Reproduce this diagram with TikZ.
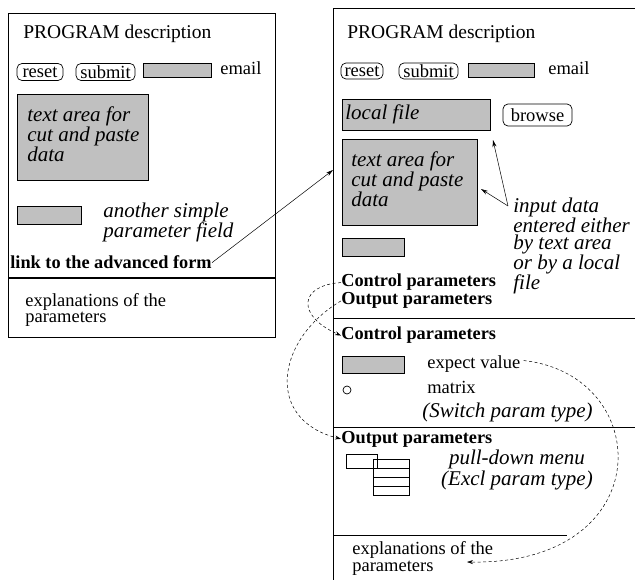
\documentclass[tikz,border=0pt]{standalone}
\usepackage{fontspec}
\setmainfont{Liberation Serif}
\usetikzlibrary{arrows.meta}
\definecolor{fieldgray}{RGB}{192,192,192}

\begin{document}
\begin{tikzpicture}[x=1pt, y=-1pt, line width=0.7pt,
  txt/.style={anchor=base west, inner sep=0pt, align=left, font=\fontsize{18.5}{16.5}\selectfont},
  itxt/.style={txt, font=\fontsize{21}{17.5}\selectfont\itshape},
  btxt/.style={txt, font=\fontsize{18.3}{18}\selectfont\bfseries},
  title/.style={txt, font=\fontsize{19.5}{18}\selectfont},
  button/.style={draw, rounded corners=5pt, inner sep=0pt, minimum height=17pt, font=\fontsize{18.5}{18}\selectfont},
  field/.style={draw, fill=fieldgray, inner sep=0pt, anchor=north west},
  link arrow/.style={line width=0.5pt, -{Stealth[length=7pt, width=4pt]}},
  jump arrow/.style={line width=0.5pt, dash pattern=on 3pt off 2.5pt, -{Stealth[length=6pt, width=4pt]}}]
  \useasboundingbox (0,0) rectangle (635,580);
  % simple form
  \draw (8,13) rectangle (275,337);
  \draw[line width=1.2pt] (8,278) -- (275,278);
  \node[title] (ltitle) at (23,39) {PROGRAM description};
  \node[button, minimum width=46pt] (lreset) at (40,72) {reset};
  \node[button, minimum width=59pt] (lsubmit) at (105.5,72) {submit};
  \node[field, minimum width=68pt, minimum height=14pt] (lemailbox) at (143,63) {};
  \node[txt] (lemail) at (220,75) {email};
  \node[field, minimum width=131pt, minimum height=86pt] (larea) at (17,94) {};
  \node[itxt] (lareatext) at (27,162) {text area for\\cut and paste\\data};
  \node[field, minimum width=64pt, minimum height=18pt] (lparbox) at (17,206) {};
  \node[itxt] (lpartext) at (103,238) {another simple\\parameter field};
  \node[btxt] (link) at (10,269) {link to the advanced form};
  \node[txt] (lexpl) at (25,323) {explanations of the\\parameters};
  % advanced form
  \draw (635,8) -- (333,8) -- (333,580);
  \draw (333,318) -- (635,318);
  \draw (333,427) -- (635,427);
  \draw (333,535) -- (567,535);
  \coordinate (adv) at (333,170);
  \node[title] (rtitle) at (347,39) {PROGRAM description};
  \node[button, minimum width=42pt, minimum height=16pt] (rreset) at (362,71) {reset};
  \node[button, minimum width=59pt, minimum height=16pt] (rsubmit) at (428.5,71) {submit};
  \node[field, minimum width=66pt, minimum height=14pt] (remailbox) at (468,63) {};
  \node[txt] (remail) at (548,75) {email};
  \node[field, minimum width=148pt, minimum height=31pt] (lfile) at (342,99) {};
  \node[itxt] (lfiletext) at (345,120) {local file};
  \node[button, minimum width=69pt, minimum height=22pt] (browse) at (537.5,115) {browse};
  \node[field, minimum width=135pt, minimum height=86pt] (rarea) at (342,139) {};
  \node[itxt] (rareatext) at (351,207) {text area for\\cut and paste\\data};
  \node[field, minimum width=62pt, minimum height=18pt] (rparbox) at (342,238) {};
  \node[btxt] (ctrla) at (341,287) {Control parameters};
  \node[btxt] (outa) at (341,305) {Output parameters};
  \node[itxt] (input) at (513,290) {input data\\entered either\\by text area\\or by a local\\file};
  \coordinate (inputtail) at (508,206);
  \node[btxt] (ctrlb) at (341,340) {Control parameters};
  \node[field, minimum width=62pt, minimum height=17pt] (expbox) at (342,356) {};
  \node[txt] (expect) at (427,368) {expect value};
  \node[draw, circle, inner sep=0pt, minimum size=8pt] (switch) at (347,390) {};
  \node[txt] (matrix) at (427,393) {matrix};
  \node[itxt] (switchtype) at (422,417) {(Switch param type)};
  \node[btxt] (outb) at (341,443) {Output parameters};
  \draw (373,459) rectangle (409,495);
  \foreach \y in {468,477,486} \draw (373,\y) -- (409,\y);
  \draw (346,454) rectangle (377,468);
  \node[itxt, anchor=base, align=center] (pulldown) at (517,485) {pull-down menu\\(Excl param type)};
  \node[txt] (rexpl) at (352,571) {explanations of the\\parameters};
  \coordinate (explend) at (467,562);
  \path[link arrow]
    (link.east) edge (adv)
    (inputtail) edge (493,140)
    (inputtail) edge (481,189);
  \draw[jump arrow] (ctrla.west) .. controls (300,285) and (295,315) .. (ctrlb.west);
  \draw[jump arrow] (outa.west) .. controls (275,340) and (265,420) .. (outb.west);
  \draw[jump arrow] (expect.east) ++(3,-3) .. controls (655,375) and (660,565) .. (explend);
\end{tikzpicture}
\end{document}
